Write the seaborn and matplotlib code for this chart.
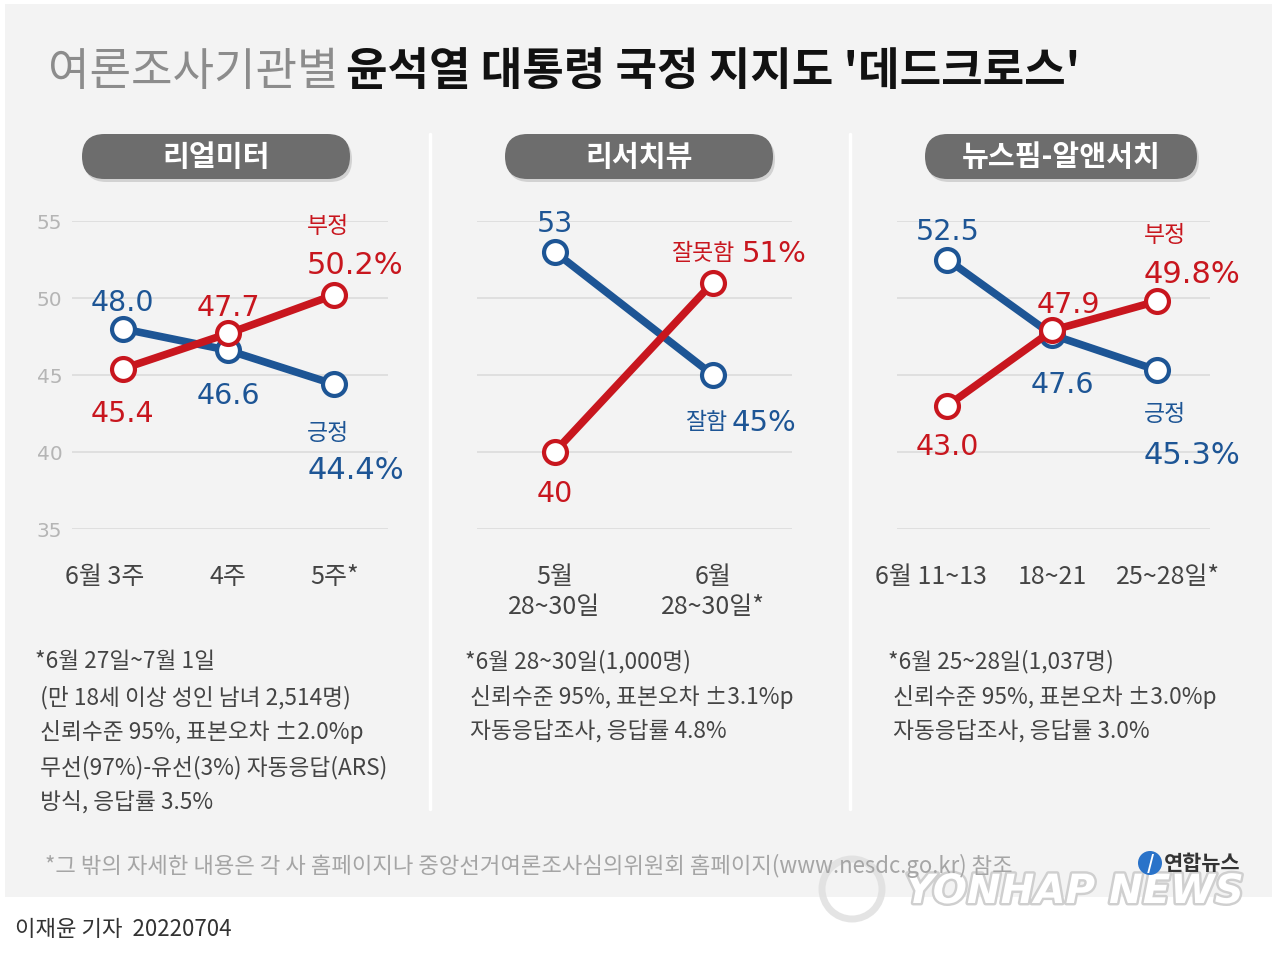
import matplotlib
matplotlib.use('Agg')
import matplotlib.pyplot as plt
import matplotlib.patheffects as pe
import matplotlib.transforms as mtrans
from matplotlib.patches import FancyBboxPatch, Rectangle, Circle
import pandas as pd
import seaborn as sns

sns.set_theme(style='white')
plt.rcParams['font.family'] = ['Noto Sans CJK KR', 'DejaVu Sans']

BLUE = '#1d5595'
RED = '#c8161e'
BG = '#f3f3f3'
NUM_FONT = ['DejaVu Sans', 'Noto Sans CJK KR']

# --- data ---
title_light = '여론조사기관별'
title_bold = "윤석열 대통령 국정 지지도 '데드크로스'"

# 리얼미터
rm_ticks = ['6월 3주', '4주', '5주*']
rm_pos = [48.0, 46.6, 44.4]
rm_neg = [45.4, 47.7, 50.2]
rm_notes = ['*6월 27일~7월 1일', ' (만 18세 이상 성인 남녀 2,514명)', ' 신뢰수준 95%, 표본오차 ±2.0%p',
            ' 무선(97%)-유선(3%) 자동응답(ARS)', ' 방식, 응답률 3.5%']

# 리서치뷰
rv_ticks = ['5월\n28~30일', '6월\n28~30일*']
rv_pos = [53, 45]
rv_neg = [40, 51]
rv_notes = ['*6월 28~30일(1,000명)', ' 신뢰수준 95%, 표본오차 ±3.1%p', ' 자동응답조사, 응답률 4.8%']

# 뉴스핌-알앤서치
nr_ticks = ['6월 11~13', '18~21', '25~28일*']
nr_pos = [52.5, 47.6, 45.3]
nr_neg = [43.0, 47.9, 49.8]
nr_notes = ['*6월 25~28일(1,037명)', ' 신뢰수준 95%, 표본오차 ±3.0%p', ' 자동응답조사, 응답률 3.0%']

footnote = '*그 밖의 자세한 내용은 각 사 홈페이지나 중앙선거여론조사심의위원회 홈페이지(www.nesdc.go.kr) 참조'
byline = '이재윤 기자  20220704'

W, H = 1280, 970
fig = plt.figure(figsize=(12.8, 9.7), dpi=100)
fig.patch.set_facecolor('white')

# background axes in pixel coordinates (y down)
bg = fig.add_axes([0, 0, 1, 1], zorder=0)
bg.set_xlim(0, W)
bg.set_ylim(H, 0)
bg.axis('off')
bg.add_patch(Rectangle((5, 5), 1267, 893, fc=BG, ec='none'))
for xv in [430, 850]:
    bg.plot([xv, xv], [135, 810], color='white', lw=2.5)

# title
t1 = bg.text(48, 72, title_light, fontsize=32.5, color='#8c8c8c', fontweight='light', va='center')
fig.canvas.draw()
bb = t1.get_window_extent()
bg.text(bb.x1 + 8, 72, title_bold, fontsize=32.5, color='#111111', fontweight='bold', va='center')


def pill(x0, x1, label):
    bg.add_patch(FancyBboxPatch((x0 + 2, 138), x1 - x0, 45, boxstyle='round,pad=0,rounding_size=22.5',
                                fc='#d2d2d2', ec='none'))
    bg.add_patch(FancyBboxPatch((x0, 135), x1 - x0, 45, boxstyle='round,pad=0,rounding_size=22.5',
                                fc='#6d6d6d', ec='none'))
    bg.text((x0 + x1) / 2, 157, label, fontsize=21, color='white', fontweight='bold', ha='center', va='center')


pill(82, 350, '리얼미터')
pill(505, 773, '리서치뷰')
pill(925, 1197, '뉴스핌-알앤서치')


def make_ax(left, right, xlim):
    top, bottom = 222, 530
    ax = fig.add_axes([left / W, 1 - bottom / H, (right - left) / W, (bottom - top) / H], zorder=2)
    ax.set_facecolor('none')
    ax.set_xlim(*xlim)
    ax.set_ylim(35, 55)
    ax.set_yticks([35, 40, 45, 50, 55])
    ax.grid(axis='y', color='#dcdcdc', lw=1.2)
    ax.grid(axis='x', visible=False)
    for s in ax.spines.values():
        s.set_visible(False)
    ax.tick_params(axis='x', length=9, width=1.5, color='#a0a0a0', pad=15.5, labelsize=18, labelcolor='#444444')
    ax.tick_params(axis='y', length=0, pad=7, labelsize=14.5, labelcolor='#b5b5b5')
    return ax


def draw_lines(ax, ticks, pos, neg):
    df = pd.DataFrame({'idx': list(range(len(ticks))) * 2,
                       'value': pos + neg,
                       'series': ['긍정'] * len(pos) + ['부정'] * len(neg)})
    for name, color in [('긍정', BLUE), ('부정', RED)]:
        sub = df[df['series'] == name]
        sns.lineplot(data=sub, x='idx', y='value', ax=ax, color=color, linewidth=5.5,
                     marker='o', markersize=16.5, markerfacecolor='white', markeredgecolor=color,
                     markeredgewidth=3, clip_on=False, legend=False, zorder=4)
    ax.set_xticks(range(len(ticks)))
    ax.set_xticklabels(ticks)
    ax.set_xlabel('')
    ax.set_ylabel('')
    for t in ax.get_yticklabels():
        t.set_fontfamily(NUM_FONT)


def shift_tick(ax, i, dx):
    lbl = ax.get_xticklabels()[i]
    lbl.set_transform(lbl.get_transform() + mtrans.Affine2D().translate(dx, 0))


def lab(ax, x, y, txt, dx, dy, color, size, ha='center', num=True):
    # dx, dy in pixels, dy positive = upward
    ax.annotate(txt, (x, y), xytext=(dx, dy - 4), textcoords='offset pixels', ha=ha, va='center_baseline',
                color=color, fontsize=size, annotation_clip=False, zorder=10,
                family=NUM_FONT if num else ['Noto Sans CJK KR', 'DejaVu Sans'])


# panel 1: 리얼미터
ax1 = make_ax(72, 388, (-0.48, 2.51))
draw_lines(ax1, rm_ticks, rm_pos, rm_neg)
shift_tick(ax1, 0, -18)
lab(ax1, 0, rm_pos[0], f'{rm_pos[0]:.1f}', 0, 34, BLUE, 20.5)
lab(ax1, 0, rm_neg[0], f'{rm_neg[0]:.1f}', 0, -37, RED, 20.5)
lab(ax1, 1, rm_neg[1], f'{rm_neg[1]:.1f}', 0, 33, RED, 20.5)
lab(ax1, 1, rm_pos[1], f'{rm_pos[1]:.1f}', 0, -38, BLUE, 20.5)
lab(ax1, 2, rm_neg[2], '부정', -27, 76, RED, 16.5, ha='left', num=False)
lab(ax1, 2, rm_neg[2], f'{rm_neg[2]:.1f}%', -27, 37, RED, 22, ha='left')
lab(ax1, 2, rm_pos[2], '긍정', -27, -42, BLUE, 16.5, ha='left', num=False)
lab(ax1, 2, rm_pos[2], f'{rm_pos[2]:.1f}%', -27, -78, BLUE, 22, ha='left')

# panel 2: 리서치뷰
ax2 = make_ax(477, 792, (-0.49, 1.5))
draw_lines(ax2, rv_ticks, rv_pos, rv_neg)
ax2.set_yticklabels([])
lab(ax2, 0, rv_pos[0], f'{rv_pos[0]}', 0, 36, BLUE, 20.5)
lab(ax2, 0, rv_neg[0], f'{rv_neg[0]}', 0, -34, RED, 20.5)
lab(ax2, 1, rv_neg[1], '잘못함', 22, 37, RED, 16.5, ha='right', num=False)
lab(ax2, 1, rv_neg[1], f'{rv_neg[1]}%', 29, 37, RED, 21, ha='left')
lab(ax2, 1, rv_pos[1], '잘함', 14, -40, BLUE, 16.5, ha='right', num=False)
lab(ax2, 1, rv_pos[1], f'{rv_pos[1]}%', 19, -40, BLUE, 21, ha='left')

# panel 3: 뉴스핌-알앤서치
ax3 = make_ax(897, 1210, (-0.48, 2.5))
draw_lines(ax3, nr_ticks, nr_pos, nr_neg)
ax3.set_yticklabels([])
shift_tick(ax3, 0, -16)
shift_tick(ax3, 2, 10)
lab(ax3, 0, nr_pos[0], f'{nr_pos[0]:.1f}', 0, 35, BLUE, 20.5)
lab(ax3, 0, nr_neg[0], f'{nr_neg[0]:.1f}', 0, -33, RED, 20.5)
lab(ax3, 1, nr_neg[1], f'{nr_neg[1]:.1f}', 16, 33, RED, 20.5)
lab(ax3, 1, nr_pos[1], f'{nr_pos[1]:.1f}', 10, -42, BLUE, 20.5)
lab(ax3, 2, nr_neg[2], '부정', -14, 73, RED, 16.5, ha='left', num=False)
lab(ax3, 2, nr_neg[2], f'{nr_neg[2]:.1f}%', -14, 35, RED, 22, ha='left')
lab(ax3, 2, nr_pos[2], '긍정', -14, -37, BLUE, 16.5, ha='left', num=False)
lab(ax3, 2, nr_pos[2], f'{nr_pos[2]:.1f}%', -14, -77, BLUE, 22, ha='left')

# survey notes
for x0, notes in [(35, rm_notes), (465, rv_notes), (888, nr_notes)]:
    for i, line in enumerate(notes):
        bg.text(x0, 662 + i * 35.2, line, fontsize=16.3, color='#444444', va='center')

# logo + watermark (faint, behind the footnote)
bg.add_patch(Circle((852, 890), 30, fc='none', ec='#dedede', lw=5, alpha=0.8, zorder=2))
bg.text(905, 893, 'YONHAP NEWS', fontsize=29, color='white', fontweight='bold', va='center',
        family='DejaVu Sans', style='italic', zorder=2,
        path_effects=[pe.withStroke(linewidth=3.5, foreground='#cfcfcf')])
bg.text(45, 866, footnote, fontsize=16, color='#a5a5a5', va='center', zorder=3)
bg.add_patch(Circle((1150, 864), 12, fc='#2a73c9', ec='none', zorder=3))
bg.text(1150, 864, '/', fontsize=14, color='white', fontweight='bold', ha='center', va='center', zorder=4)
bg.text(1164, 864, '연합뉴스', fontsize=15, color='#333333', fontweight='bold', va='center', zorder=4)

bg.text(15, 930, byline, fontsize=16, color='#333333', va='center')

fig.savefig('out.png', dpi=100, facecolor='white')
